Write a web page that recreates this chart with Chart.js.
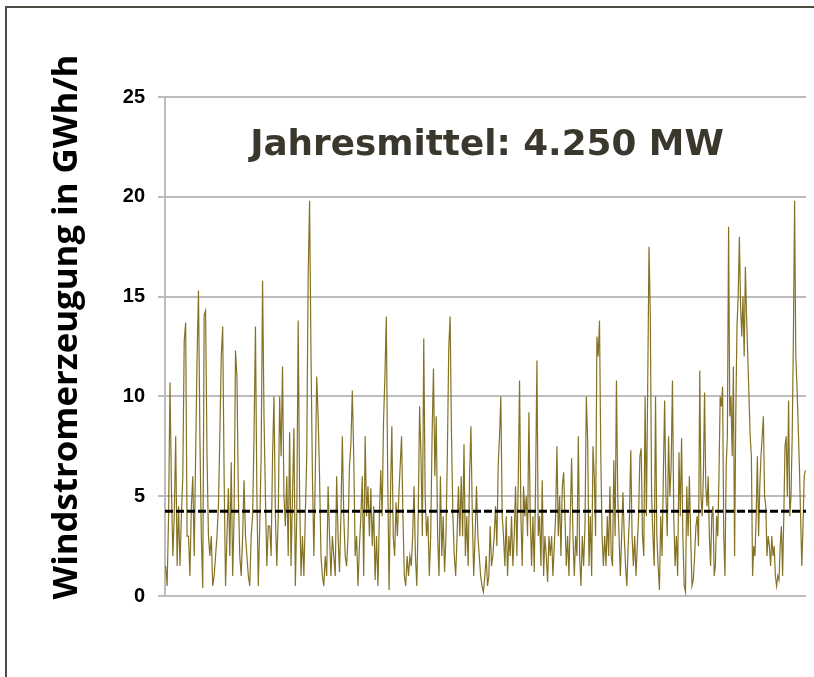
<!DOCTYPE html>
<html>
<head>
<meta charset="utf-8">
<script src="https://cdn.jsdelivr.net/npm/chart.js@4.4.1/dist/chart.umd.min.js"></script>
<style>
  html, body { margin: 0; padding: 0; background: #fff; }
  #wrap { position: relative; width: 814px; height: 677px; overflow: hidden; }
  #rahmen { position: absolute; left: 5px; top: 6px; right: -10px; bottom: -10px;
            border-top: 2px solid #4d4b44; border-left: 2px solid #4d4b44; }
  canvas { position: absolute; left: 0; top: 0; }
</style>
</head>
<body>
<div id="wrap">
  <div id="rahmen"></div>
  <canvas id="chart" width="814" height="677"></canvas>
</div>
<script>
var perioden = ['Jan–Feb', 'Mär–Apr', 'Mai–Jun', 'Jul–Aug', 'Sep–Okt', 'Nov–Dez'];

var janFeb = [1.5, 0.5, 4, 10.7, 5.5, 2, 4, 8, 1.5, 4.5, 1.5, 4, 6, 12.8, 13.7, 3, 3, 1, 4.5, 6,
  2, 7, 11.9, 15.3, 8, 3, 0.4, 14.1, 14.3, 7, 3, 2, 3, 0.5, 1, 2, 3, 4.5, 8, 12,
  13.5, 6, 0.5, 3, 5.4, 2, 6.7, 1, 4, 12.3, 11, 5, 2, 1, 3, 5.8, 3, 2, 1, 0.5,
  3, 4, 8, 13.5, 5, 0.5, 3.5, 7, 15.8, 9, 5, 1.5, 3.5, 3.5, 2];
var marApr = [7, 10, 4, 1.5, 4, 10, 7, 11.5, 5, 3.5, 6, 2, 8.2, 1.5, 5, 8.4, 0.5, 4, 13.8, 5,
  1, 3, 1, 4, 7, 16, 19.8, 12, 6, 2, 6, 11, 9, 6, 2, 1, 0.5, 2, 1, 5.5,
  3, 1, 3, 2, 1, 6, 3, 1.2, 4, 8, 4, 2, 1.5, 3, 6.5, 7.6, 10.3, 7, 2, 3,
  0.5, 2.5, 4, 6, 1, 8, 4, 5.5, 3, 5.4, 2.5, 4.5, 0.8, 3, 0.5];
var maiJun = [4, 6.3, 4, 8.7, 11, 14, 6, 0.3, 5, 8.5, 3, 2, 4.7, 3, 5, 6.5, 8, 4, 1, 0.5,
  2, 1, 2, 1.5, 3, 5.5, 2, 0.5, 4, 9.5, 7, 3, 12.9, 5, 3, 4, 1, 3, 8, 11.4,
  6, 9, 3, 1, 6, 2, 4, 1.2, 3, 7, 12.4, 14, 8, 4, 2, 1, 3, 5.5, 3, 6,
  3, 7.6, 2, 4, 1.5, 6, 8.5, 4, 1, 3, 5.5, 3, 2, 1, 0.5, 0.2, 1];
var julAug = [2, 0.5, 1, 3.5, 1.5, 2, 3, 4.5, 2.5, 6.5, 8, 10, 4, 3, 1.5, 4, 1, 3, 2, 4,
  1.5, 3, 5.5, 2, 5.7, 10.8, 4, 1.5, 5.5, 4, 5, 3, 9.2, 4, 1.5, 4, 1.2, 5.5, 11.8, 3,
  4, 1.5, 5.8, 1, 3, 2, 0.7, 3, 2, 3, 1, 2.5, 4, 7.5, 3, 5, 2, 5.5, 6.2, 4,
  1.5, 3, 1, 4, 6.9, 3, 1, 3, 2, 8, 2, 0.5, 3, 1.5, 3.5, 10, 7.8, 1.5, 4, 1];
var sepOkt = [7.5, 6, 3, 13, 12, 13.8, 7, 3, 1.5, 3, 1.5, 4, 2, 5.5, 2, 1.5, 6.8, 3, 10.8, 5,
  3, 1, 3, 5.2, 3, 1.5, 0.5, 2.5, 4, 7.3, 3, 1.5, 3, 1, 2.5, 4, 7, 7.4, 3, 2,
  10, 4, 10.5, 17.5, 14, 5, 3, 1.5, 10, 3, 1.5, 0.3, 4, 2, 6, 9.8, 5, 3, 8, 5,
  6.5, 10.8, 4, 1.5, 3, 1, 7.2, 4, 7.9, 3, 0.5, 0.2, 5.5, 3, 6, 3, 0.5, 0.8, 2, 3.5,
  4, 2.5];
var novDez = [11.3, 5, 4, 6, 10.2, 5.5, 4.5, 6, 3, 1.5, 4, 4.5, 1, 1.5, 4, 3, 6, 10, 9.5, 10.5,
  3, 1, 6.5, 8, 18.5, 9, 10, 7, 11.5, 2, 9, 13.5, 15, 18, 14.5, 13, 15, 12, 16.5, 14,
  12, 10, 8, 7, 1, 2.5, 2, 4, 7, 3, 5.5, 7, 8, 9, 5, 4.5, 2, 3, 2.5, 1.5,
  3, 2, 2.5, 1, 0.5, 1, 0.8, 2.5, 3.5, 1, 4, 7.5, 8, 5, 9.8, 4, 5, 8, 13, 19.8,
  12, 10.5, 8.5, 6.5, 4, 1.5, 3.5, 6, 6.3];

var yTicks = [0, 5, 10, 15, 20, 25];
var jahresmittel = 4.25;
var titelText = 'Jahresmittel: 4.250 MW';
var achsenTitel = 'Windstromerzeugung in GWh/h';

// Punkte je Abschnitt gleichmäßig verteilen
var reihen = [janFeb, marApr, maiJun, julAug, sepOkt, novDez];
var punkte = [];
reihen.forEach(function(werte, p) {
  werte.forEach(function(v, j) {
    punkte.push({x: p + (j + 0.5) / werte.length, y: v});
  });
});

function fitSize(ctx, text, family, breite, basis) {
  ctx.font = 'bold ' + basis + 'px ' + family;
  return basis * breite / ctx.measureText(text).width;
}

var textPlugin = {
  id: 'texte',
  afterDraw: function(chart) {
    var ctx = chart.ctx;
    ctx.save();
    // Jahresmittel-Text in der Grafik
    var s = fitSize(ctx, titelText, '"DejaVu Sans"', 474, 30);
    ctx.font = 'bold ' + s + 'px "DejaVu Sans"';
    ctx.fillStyle = '#3a372c';
    ctx.textAlign = 'center';
    ctx.textBaseline = 'alphabetic';
    ctx.fillText(titelText, 487, 155);
    // Achsentitel, gedreht
    var s2 = fitSize(ctx, achsenTitel, '"Open Sans"', 545, 30);
    ctx.font = 'bold ' + s2 + 'px "Open Sans"';
    ctx.fillStyle = '#000';
    ctx.translate(77, 327);
    ctx.rotate(-Math.PI / 2);
    ctx.fillText(achsenTitel, 0, 0);
    ctx.restore();
  }
};

new Chart(document.getElementById('chart'), {
  type: 'line',
  data: {
    datasets: [
      {
        label: 'Jahresmittel',
        data: [{x: 0, y: jahresmittel}, {x: perioden.length, y: jahresmittel}],
        borderColor: '#000',
        borderWidth: 3,
        borderDash: [8, 3],
        pointRadius: 0,
        order: 0
      },
      {
        label: 'Windstromerzeugung',
        data: punkte,
        borderColor: '#857325',
        borderWidth: 1.2,
        pointRadius: 0,
        tension: 0,
        order: 1
      }
    ]
  },
  options: {
    responsive: false,
    animation: false,
    layout: { padding: { top: 97, right: 8, bottom: 81, left: 0 } },
    plugins: { legend: { display: false }, tooltip: { enabled: false } },
    scales: {
      x: { type: 'linear', min: 0, max: perioden.length, display: false },
      y: {
        min: 0,
        max: 25,
        afterBuildTicks: function(scale) {
          scale.ticks = yTicks.map(function(v) { return {value: v}; });
        },
        afterFit: function(scale) { scale.width = 165; },
        grid: { color: '#bdbdbd', lineWidth: 2, tickLength: 7 },
        border: { color: '#bdbdbd', width: 2 },
        ticks: {
          padding: 13,
          color: '#000',
          font: { family: '"Liberation Sans Narrow", "Liberation Sans"', size: 20, weight: 'bold' }
        }
      }
    }
  },
  plugins: [textPlugin]
});
</script>
</body>
</html>
